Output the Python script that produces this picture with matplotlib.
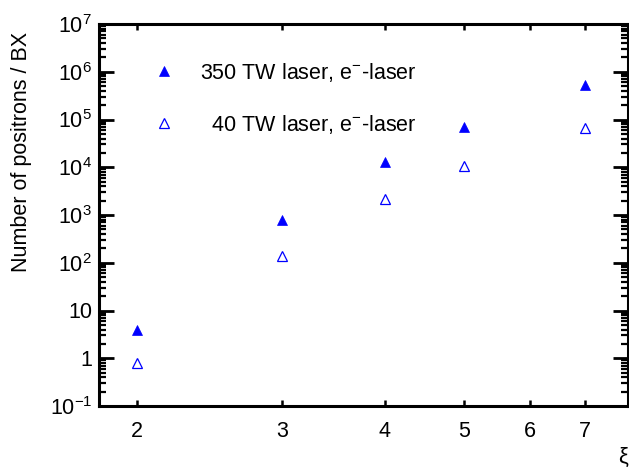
import numpy as np
import matplotlib
matplotlib.use("Agg")
import matplotlib.pyplot as plt
from matplotlib.ticker import FixedLocator, FixedFormatter, LogLocator, NullLocator, NullFormatter

plt.rcParams['font.family'] = ['Liberation Sans', 'DejaVu Sans']
plt.rcParams['mathtext.fontset'] = 'custom'
plt.rcParams['mathtext.rm'] = 'Liberation Sans'
plt.rcParams['mathtext.it'] = 'Liberation Sans:italic'

# data
xi = [2, 3, 4, 5, 7]
n_350tw = [3.9, 790, 12900, 69000, 530000]
n_40tw = [0.81, 138, 2160, 10600, 67000]

xticks = [2, 3, 4, 5, 6, 7]
yticks = [1e-1, 1, 10, 1e2, 1e3, 1e4, 1e5, 1e6, 1e7]
ytick_labels = [r'$\mathdefault{10^{-1}}$', '1', '10', r'$\mathdefault{10^{2}}$',
                r'$\mathdefault{10^{3}}$', r'$\mathdefault{10^{4}}$', r'$\mathdefault{10^{5}}$',
                r'$\mathdefault{10^{6}}$', r'$\mathdefault{10^{7}}$']

fig = plt.figure(figsize=(6.29, 4.71), dpi=100)
ax = fig.add_axes([99/629, 1 - 406/471, 529/629, 382/471])

ax.plot(xi, n_350tw, linestyle='none', marker='^', markersize=7.5,
        color='#0000ff', markeredgewidth=0.5, label='350 TW laser, e$^{-}$-laser')
ax.plot(xi, n_40tw, linestyle='none', marker='^', markersize=7.5,
        markerfacecolor='white', markeredgecolor='#0000ff', markeredgewidth=0.9,
        label='  40 TW laser, e$^{-}$-laser')

ax.set_xscale('log')
ax.set_yscale('log')
ax.set_xlim(1.8, 7.9)
ax.set_ylim(1e-1, 1e7)

ax.xaxis.set_major_locator(FixedLocator(xticks))
ax.xaxis.set_major_formatter(FixedFormatter([str(t) for t in xticks]))
ax.xaxis.set_minor_locator(NullLocator())
ax.xaxis.set_minor_formatter(NullFormatter())
ax.yaxis.set_major_locator(FixedLocator(yticks))
ax.yaxis.set_major_formatter(FixedFormatter(ytick_labels))
ax.yaxis.set_minor_locator(LogLocator(base=10, subs=np.arange(2, 10), numticks=20))
ax.yaxis.set_minor_formatter(NullFormatter())

for s in ax.spines.values():
    s.set_linewidth(2.2)

ax.tick_params(axis='both', which='both', direction='in', top=True, right=True,
               labelsize=15.5)
ax.tick_params(axis='y', which='major', length=11, width=2, pad=5)
ax.tick_params(axis='y', which='minor', length=5, width=1.6)
ax.tick_params(axis='x', which='major', length=4.5, width=1.8, pad=11)

ax.set_ylabel('Number of positrons / BX', fontsize=15.5)
ax.yaxis.set_label_coords(-0.126, 0.665)
fig.text(628/629, 1 - 447/471, 'ξ', fontsize=16, ha='right', va='top')

ax.legend(loc='upper left', bbox_to_anchor=(0.065, 0.954), frameon=False,
          fontsize=15.5, handletextpad=1.2, labelspacing=1.35, handlelength=1.0,
          numpoints=1, markerscale=1.0)

fig.savefig('out.png', dpi=100)
